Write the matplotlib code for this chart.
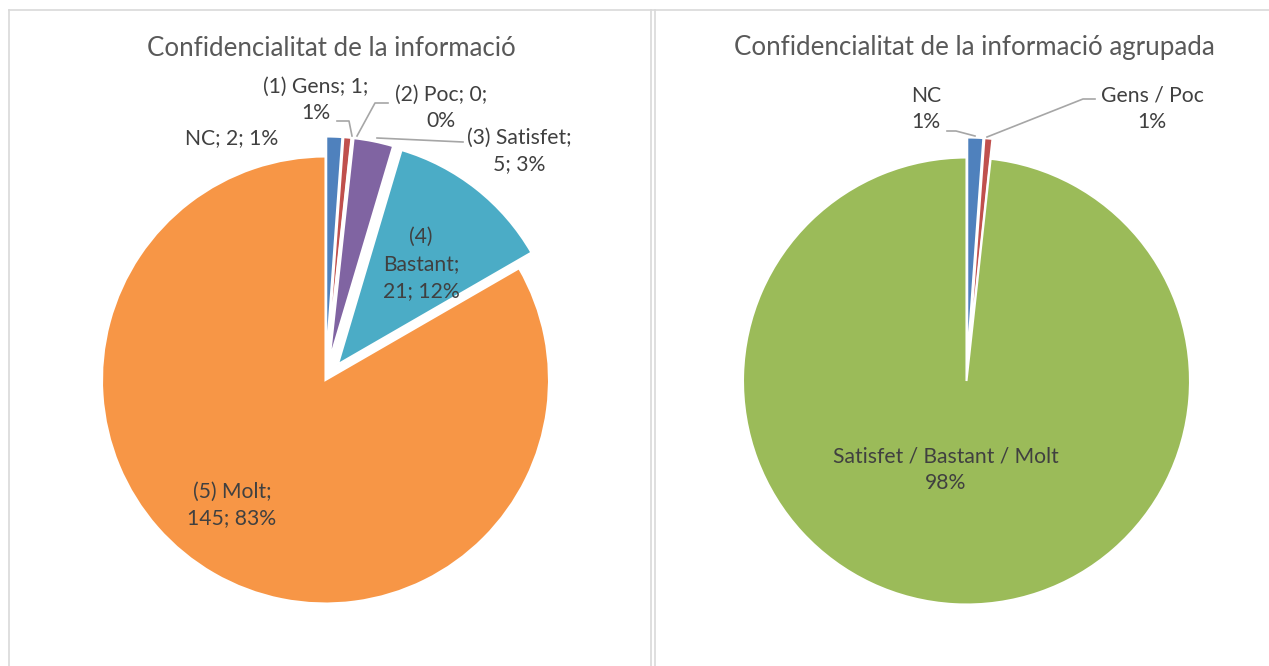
import matplotlib
matplotlib.use("Agg")
import matplotlib.pyplot as plt
from matplotlib.lines import Line2D

# ---- data ----
left_title = "Confidencialitat de la informació"
left_labels = ["NC", "(1) Gens", "(2) Poc", "(3) Satisfet", "(4) Bastant", "(5) Molt"]
left_values = [2, 1, 0, 5, 21, 145]
left_colors = ["#4F81BD", "#C0504D", "#9BBB59", "#8064A2", "#4BACC6", "#F79646"]

right_title = "Confidencialitat de la informació agrupada"
right_labels = ["NC", "Gens / Poc", "Satisfet / Bastant / Molt"]
right_values = [2, 1, 171]
right_colors = ["#4F81BD", "#C0504D", "#9BBB59"]

W, H = 1269, 666
plt.rcParams['font.family'] = ['Lato', 'DejaVu Sans']
TXT = "#404040"

fig = plt.figure(figsize=(W / 100, H / 100), dpi=100)
ax = fig.add_axes([0, 0, 1, 1])


def Y(y):
    return H - y


EXP = 20  # explosion offset in pixels (pie explode is in data units)
left_explode = [EXP, EXP, EXP, EXP, EXP, 0]
right_explode = [EXP, EXP, 0]

wp = dict(edgecolor="white", linewidth=1.5)

ax.pie(left_values, colors=left_colors, explode=left_explode, startangle=90,
       counterclock=False, center=(325.5, Y(380)), radius=223.5, wedgeprops=wp,
       frame=True)
ax.pie(right_values, colors=right_colors, explode=right_explode, startangle=90,
       counterclock=False, center=(966.5, Y(381)), radius=223.5, wedgeprops=wp,
       frame=True)
ax.set_xlim(0, W)
ax.set_ylim(0, H)
ax.set_aspect('equal')
ax.axis('off')

# frames
for (x0, y0, x1, y1) in [(9, 10, W, 10), (9, 10, 9, H), (651, 10, 651, H), (655, 10, 655, H)]:
    ax.add_line(Line2D([x0, x1], [Y(y0), Y(y1)], color="#D9D9D9", lw=1.2))

lt = sum(left_values)
rt = sum(right_values)

fs = 15.2
ls = 1.42
ax.text(331, Y(48), left_title, ha='center', va='center', fontsize=18.6, color="#595959")
ax.text(974, Y(48), right_title, ha='center', va='center', fontsize=18.6, color="#595959")

pct = [round(100 * v / lt) for v in left_values]
b4 = left_labels[4].split(' ')
left_texts = [
    (f"{left_labels[0]}; {left_values[0]}; {pct[0]}%", 232, 138),
    (f"{left_labels[1]}; {left_values[1]};\n{pct[1]}%", 316, 100),
    (f"{left_labels[2]}; {left_values[2]};\n{pct[2]}%", 441, 108),
    (f"{left_labels[3]};\n{left_values[3]}; {pct[3]}%", 519, 151),
    (f"{b4[0]}\n{b4[1]};\n{left_values[4]}; {pct[4]}%", 421, 264),
    (f"{left_labels[5]};\n{left_values[5]}; {pct[5]}%", 232, 505),
]
for s, x, y in left_texts:
    ax.text(x, Y(y), s, ha='center', va='center', fontsize=fs, color=TXT, linespacing=ls)

rpct = [round(100 * v / rt) for v in right_values]
right_texts = [
    (f"{right_labels[0]}\n{rpct[0]}%", 926, 109),
    (f"{right_labels[1]}\n{rpct[1]}%", 1152, 109),
    (f"{right_labels[2]}\n{rpct[2]}%", 946, 470),
]
for s, x, y in right_texts:
    ax.text(x, Y(y), s, ha='center', va='center', fontsize=fs, color=TXT, linespacing=ls)

leaders = [
    [(337, 121), (349, 121), (352, 136)],
    [(388, 103), (375, 103), (357, 136)],
    [(377, 138), (463, 142)],
    [(947, 131), (956, 131), (975, 136)],
    [(987, 137), (1083, 99), (1095, 99)],
]
for pts in leaders:
    ax.add_line(Line2D([p[0] for p in pts], [Y(p[1]) for p in pts], color="#A6A6A6", lw=1.2))

fig.savefig("out.png", dpi=100, facecolor="white")
